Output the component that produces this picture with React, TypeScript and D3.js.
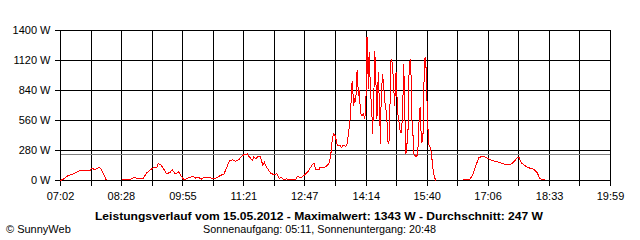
import React from "react";
import * as d3 from "d3";

const times: string[] = [
  "07:02","07:06","07:13","07:20","07:25","07:30","07:44","07:46","07:51","07:57","08:00","08:07","08:15",
  "08:29","08:40","08:46","08:51","08:59","09:04","09:09","09:14","09:18","09:20","09:24","09:27","09:32",
  "09:37","09:40","09:44","09:49","09:52","09:56","10:00","10:05","10:10","10:13","10:17","10:21","10:25",
  "10:29","10:34","10:39","10:43","10:48","10:53","10:57","11:01","11:05","11:09","11:14","11:18","11:21",
  "11:26","11:28","11:33","11:35","11:38","11:41","11:44","11:48","11:50","11:53","11:59","12:03","12:08",
  "12:11","12:14","12:17","12:21","12:26","12:34","12:37","12:41","12:46","12:51","12:57","13:00","13:03",
  "13:07","13:09","13:15","13:19","13:22","13:24","13:26","13:28","13:30","13:33","13:37","13:39","13:41",
  "13:45","13:47","13:49","13:51","13:53","13:54","13:55","13:56","13:58","13:59","14:01","14:03","14:04",
  "14:06","14:08","14:10","14:12","14:14","14:15","14:17","14:18","14:20","14:22","14:23","14:25","14:26",
  "14:28","14:29","14:31","14:33","14:34","14:35","14:37","14:39","14:40","14:43","14:44","14:46","14:47",
  "14:49","14:51","14:53","14:54","14:56","14:58","14:59","15:01","15:02","15:04","15:06","15:07","15:08",
  "15:10","15:11","15:13","15:14","15:16","15:17","15:18","15:20","15:21","15:24","15:26","15:27","15:28",
  "15:30","15:31","15:32","15:34","15:35","15:37","15:39","15:40","15:42","15:45","15:47","15:49","15:52",
  "16:10","16:30","16:40","16:44","16:48","16:53","16:58","17:02","17:07","17:12","17:17","17:24","17:31",
  "17:38","17:42","17:47","17:50","17:53","17:59","18:04","18:11","18:15","18:19","18:23","18:26","18:50",
  "19:28","19:29"
];

const watts: (number | null)[] = [
  0,12,47,62,78,96,96,112,103,121,100,0,null,
  6,6,31,19,22,72,100,121,121,156,146,115,62,
  78,100,62,81,47,9,16,31,37,22,28,12,31,
  28,25,16,25,47,62,125,187,193,180,196,227,240,
  249,227,187,218,202,227,227,140,171,125,68,56,62,
  16,31,6,16,9,9,40,25,47,78,140,162,100,
  100,125,125,140,171,249,390,436,420,327,327,308,327,
  320,342,451,560,793,933,840,700,770,730,1027,793,840,
  622,607,622,575,840,1343,855,1198,840,607,436,887,1213,
  840,575,1011,607,342,770,995,840,747,607,373,342,575,
  1135,1089,840,700,1011,684,591,513,451,451,824,1089,731,
  249,296,482,949,1135,1073,607,420,249,224,233,296,498,
  684,513,358,373,840,1151,1011,672,342,300,187,62,0,
  null,6,12,47,125,212,227,218,202,187,177,165,149,
  149,171,212,212,165,134,118,103,78,22,6,6,null,
  8,8
];

const xTickLabels: string[] = ["07:02","08:28","09:55","11:21","12:47","14:14","15:40","17:06","18:33","19:59"];
const yTicks: number[] = [0, 280, 560, 840, 1120, 1400];
const average = 247;
const maximum = 1343;
const dateLabel = "15.05.2012";
const sunrise = "05:11";
const sunset = "20:48";

const parse = d3.timeParse("%H:%M");

export default function App() {
  const W = 640, H = 240;
  const left = 60, right = 610, top = 30, bottom = 180;
  const t0 = parse(xTickLabels[0])!;
  const t1 = parse(xTickLabels[xTickLabels.length - 1])!;
  const x = d3.scaleTime().domain([t0, t1]).range([left + 0.5, right + 0.5]);
  const y = d3.scaleLinear().domain([0, 1400]).range([bottom + 0.5, top + 0.5]);

  const nGrid = (xTickLabels.length - 1) * 2;
  const gridTimes = d3.range(nGrid + 1).map(
    (i) => new Date(t0.getTime() + (i * (t1.getTime() - t0.getTime())) / nGrid)
  );

  const data = times.map((t, i) => ({ t: parse(t)!, w: watts[i] }));
  const line = d3
    .line<{ t: Date; w: number | null }>()
    .defined((d) => d.w !== null)
    .x((d) => x(d.t))
    .y((d) => y(d.w as number));

  const font = "Arial, 'Liberation Sans', sans-serif";

  return (
    <div style={{ position: "absolute", left: 0, top: 0, width: W, height: H, background: "#fff" }}>
      <svg width={W} height={H} style={{ display: "block" }} fontFamily={font}>
        <rect x={0} y={0} width={W} height={H} fill="#fff" />
        {gridTimes.map((g, i) => {
          const gx = Math.round(x(g) - 0.5) + 0.5;
          return (
            <line key={"v" + i} x1={gx} x2={gx} y1={top} y2={bottom + 6}
              stroke="#000" strokeWidth={1} shapeRendering="crispEdges" />
          );
        })}
        {yTicks.map((v) => (
          <line key={"h" + v} x1={left - 5} x2={right + 1} y1={y(v)} y2={y(v)}
            stroke="#000" strokeWidth={1} shapeRendering="crispEdges" />
        ))}
        <line x1={left + 1} x2={right} y1={Math.round(y(average) - 0.5) + 0.5} y2={Math.round(y(average) - 0.5) + 0.5}
          stroke="#808080" strokeWidth={1} shapeRendering="crispEdges" />
        <path d={line(data) || ""} fill="none" stroke="#ff0000" strokeWidth={1} shapeRendering="crispEdges" />
        {yTicks.map((v) => (
          <text key={"yl" + v} x={50.5} y={y(v) + 3.5} textAnchor="end" fontSize={11} fill="#000">
            {v + " W"}
          </text>
        ))}
        {xTickLabels.map((l) => (
          <text key={"xl" + l} x={x(parse(l)!)} y={200} textAnchor="middle" fontSize={11} fill="#000">
            {l}
          </text>
        ))}
        <text x={319} y={220} textAnchor="middle" fontSize={11.5} fontWeight="bold" fill="#000"
          textLength={448} lengthAdjust="spacingAndGlyphs">
          {`Leistungsverlauf vom ${dateLabel} - Maximalwert: ${maximum} W - Durchschnitt: ${average} W`}
        </text>
        <text x={6} y={233} fontSize={11} fill="#000">
          © SunnyWeb
        </text>
        <text x={319.5} y={233} textAnchor="middle" fontSize={11} fill="#000"
          textLength={233} lengthAdjust="spacingAndGlyphs">
          {`Sonnenaufgang: ${sunrise}, Sonnenuntergang: ${sunset}`}
        </text>
      </svg>
    </div>
  );
}
